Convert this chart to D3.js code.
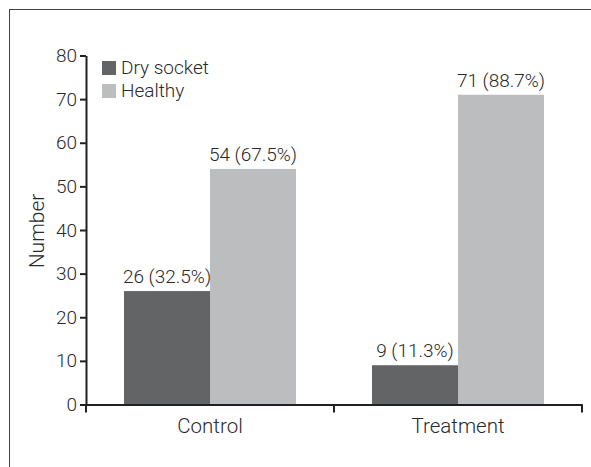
<!DOCTYPE html>
<html>
<head>
<meta charset="utf-8">
<script src="https://cdn.jsdelivr.net/npm/d3@7"></script>
<style>
  html, body { margin: 0; padding: 0; background: #fff; }
  svg { display: block; }
  text { font-family: Roboto, "Liberation Sans", Arial, sans-serif; font-weight: 300; fill: #2a2a2a; }
</style>
</head>
<body>
<svg id="chart" width="591" height="467"></svg>
<script>
const categories = ["Control", "Treatment"];
const seriesNames = ["Dry socket", "Healthy"];
const dryValues = [26, 9];
const healthyValues = [54, 71];
const dryLabels = ["26 (32.5%)", "9 (11.3%)"];
const healthyLabels = ["54 (67.5%)", "71 (88.7%)"];
const yTicks = [0, 10, 20, 30, 40, 50, 60, 70, 80];
const colors = ["#636466", "#bcbdbf"];

(function () {
const FONT = 'Roboto, "Liberation Sans", Arial, sans-serif';
const svg = d3.select("#chart");

// frame
svg.append("rect")
  .attr("x", 9.5).attr("y", 9.5)
  .attr("width", 600).attr("height", 500)
  .attr("fill", "none").attr("stroke", "#444").attr("stroke-width", 1);

const mLeft = 86, mRight = 582, mTop = 55.5, mBottom = 404.5;

const x0 = d3.scaleBand().domain(categories).range([mLeft, mRight]).paddingInner(0).paddingOuter(0);
const x1 = d3.scaleBand().domain(seriesNames).range([0, x0.bandwidth()]).paddingInner(0).paddingOuter(0.442);
const y = d3.scaleLinear().domain([0, 80]).range([mBottom, mTop]);
const color = d3.scaleOrdinal().domain(seriesNames).range(colors);

const rows = categories.map((c, i) => ({
  cat: c,
  vals: [
    { s: seriesNames[0], v: dryValues[i], label: dryLabels[i] },
    { s: seriesNames[1], v: healthyValues[i], label: healthyLabels[i] }
  ]
}));

const g = svg.append("g");
const groups = g.selectAll("g.cat").data(rows).enter().append("g")
  .attr("transform", d => `translate(${x0(d.cat)},0)`);

groups.selectAll("rect").data(d => d.vals).enter().append("rect")
  .attr("x", d => x1(d.s))
  .attr("y", d => y(d.v))
  .attr("width", x1.bandwidth())
  .attr("height", d => y(0) - y(d.v))
  .attr("fill", d => color(d.s));

groups.selectAll("text.lbl").data(d => d.vals).enter().append("text")
  .attr("class", "lbl")
  .attr("x", d => x1(d.s) + x1.bandwidth() / 2)
  .attr("y", d => y(d.v) - 8)
  .attr("text-anchor", "middle")
  .attr("font-size", 19)
  .text(d => d.label);

// y axis
const yAxis = g.append("g").attr("transform", `translate(${mLeft},0)`)
  .call(d3.axisLeft(y).tickValues(yTicks).tickSize(6).tickPadding(3).tickSizeOuter(0));
yAxis.select(".domain").attr("stroke", "#231f20").attr("stroke-width", 2);
yAxis.selectAll(".tick line").attr("stroke", "#231f20").attr("stroke-width", 2);
yAxis.selectAll(".tick text").attr("font-size", 19).attr("fill", "#2a2a2a")
  .style("font-family", FONT).style("font-weight", 300);

// x axis
const xAxis = g.append("g").attr("transform", `translate(0,${mBottom})`)
  .call(d3.axisBottom(x0).tickSize(0).tickPadding(14));
xAxis.select(".domain").attr("stroke", "#231f20").attr("stroke-width", 2);
xAxis.selectAll(".tick text").attr("font-size", 20.5).attr("fill", "#2a2a2a")
  .style("font-family", FONT).style("font-weight", 300);
const boundaries = categories.map(c => x0(c)).concat([x0.range()[1]]);
xAxis.selectAll("line.bnd").data(boundaries).enter().append("line")
  .attr("class", "bnd")
  .attr("x1", d => d).attr("x2", d => d)
  .attr("y1", 0).attr("y2", 8)
  .attr("stroke", "#231f20").attr("stroke-width", 2);

// y label
svg.append("text")
  .attr("transform", `translate(44,231) rotate(-90)`)
  .attr("text-anchor", "middle")
  .attr("font-size", 21)
  .text("Number");

// legend
const legend = svg.append("g").attr("transform", "translate(102,61)");
const li = legend.selectAll("g").data(seriesNames).enter().append("g")
  .attr("transform", (d, i) => `translate(0,${i * 23})`);
li.append("rect").attr("width", 14).attr("height", 14).attr("fill", d => color(d));
li.append("text").attr("x", 19).attr("y", 13).attr("font-size", 19).text(d => d);
})();
</script>
</body>
</html>
